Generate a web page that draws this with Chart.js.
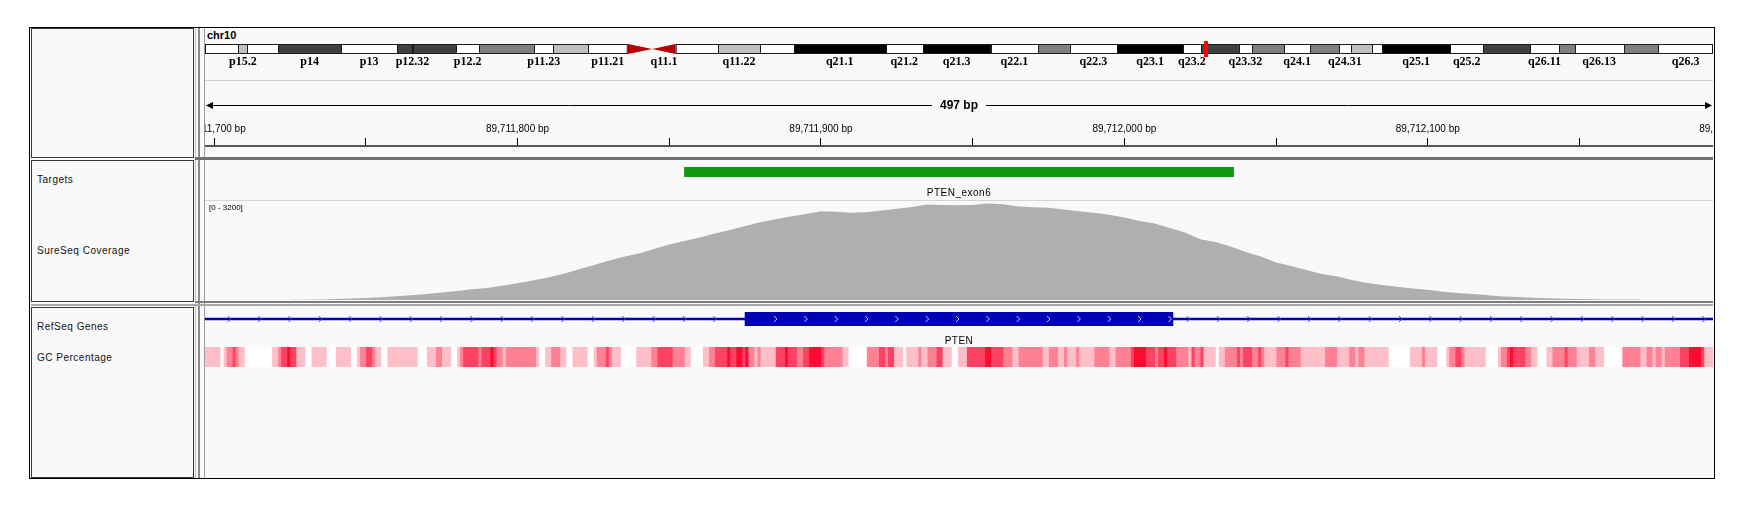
<!DOCTYPE html>
<html>
<head>
<meta charset="utf-8">
<script src="https://cdn.jsdelivr.net/npm/chart.js@4.4.1/dist/chart.umd.min.js"></script>
<style>
  body { margin:0; width:1746px; height:514px; background:#fff; position:relative; overflow:hidden; font-family:"Liberation Sans", Arial, sans-serif; }
  .box { position:absolute; box-sizing:border-box; }
  .name { left:31px; width:163px; border:1px solid #3a3a3a; background:#f9f9f9; }
  .lbl { position:absolute; left:37px; font-size:10px; letter-spacing:0.5px; color:#111; line-height:12px; white-space:nowrap; }
  canvas { position:absolute; }
</style>
</head>
<body>
<div class="box" style="left:29px;top:27px;width:1686px;height:452px;border:1px solid #000;background:#f9f9f9"></div>
<div class="box name" style="top:28px;height:130px"></div>
<div class="box name" style="top:160px;height:142px"></div>
<div class="box name" style="top:307px;height:171px"></div>

<div class="box" style="left:195px;top:28px;width:1px;height:450px;background:#c4c4c4"></div>
<div class="box" style="left:198px;top:28px;width:2px;height:450px;background:#8c8c8c"></div>
<div class="box" style="left:204px;top:28px;width:1px;height:450px;background:#9c9c9c"></div>

<div class="box" style="left:195px;top:157px;width:1518px;height:3px;background:#707070"></div>
<div class="box" style="left:195px;top:301px;width:1518px;height:2px;background:#7c7c7c"></div>
<div class="box" style="left:31px;top:304px;width:1682px;height:2px;background:#a8a8a8"></div>
<div class="box" style="left:205px;top:80px;width:1508px;height:1px;background:#d2d2d2"></div>
<div class="box" style="left:205px;top:200px;width:1508px;height:1px;background:#d4d4dc"></div>

<div class="lbl" style="top:174px">Targets</div>
<div class="lbl" style="top:245px">SureSeq Coverage</div>
<div class="lbl" style="top:321px">RefSeq Genes</div>
<div class="lbl" style="top:352px">GC Percentage</div>
<div class="box" style="left:207px;top:29px;font-weight:bold;font-size:11px;line-height:13px;color:#000">chr10</div>

<canvas id="ideo" width="1508" height="34" style="left:205px;top:38px"></canvas>
<canvas id="ruler" width="1508" height="76" style="left:205px;top:81px"></canvas>
<canvas id="targets" width="1508" height="39" style="left:205px;top:161px"></canvas>
<canvas id="coverage" width="1508" height="99" style="left:205px;top:201px"></canvas>
<canvas id="gene" width="1508" height="36" style="left:205px;top:309px"></canvas>
<canvas id="gc" width="1508" height="20" style="left:205px;top:347px"></canvas>

<script>
// visible window on chr10
const viewStart = 89711697;
const viewEnd = 89712194;
const chromEnd = 135534747;

// cytobands of chr10
const bandNames = ['p15.3','p15.2','p15.1','p14','p13','p12.33','p12.32','p12.31','p12.2','p12.1',
  'p11.23','p11.22','p11.21','p11.1','q11.1','q11.21','q11.22','q11.23','q21.1','q21.2',
  'q21.3','q22.1','q22.2','q22.3','q23.1','q23.2','q23.31','q23.32','q23.33','q24.1',
  'q24.2','q24.31','q24.32','q24.33','q25.1','q25.2','q25.3','q26.11','q26.12','q26.13',
  'q26.2','q26.3'];
const bandStarts = [0,3000000,3800000,6600000,12200000,17300000,18600000,18700000,22600000,24600000,
  29600000,31300000,34400000,38000000,40200000,42300000,46100000,49900000,52900000,61200000,
  64500000,70600000,74900000,77700000,82000000,87900000,89500000,92900000,94100000,97000000,
  99300000,101900000,103000000,104900000,105800000,111900000,114900000,119100000,121700000,123100000,
  127500000,130600000];
const bandStains = ['gneg','gpos25','gneg','gpos75','gneg','gpos75','gneg','gpos75','gneg','gpos50',
  'gneg','gpos25','gneg','acen','acen','gneg','gpos25','gneg','gpos100','gneg',
  'gpos100','gneg','gpos50','gneg','gpos100','gneg','gpos75','gneg','gpos50','gneg',
  'gpos50','gneg','gpos25','gneg','gpos100','gneg','gpos75','gneg','gpos50','gneg',
  'gpos50','gneg'];
const bandLabels = ['p15.2','p14','p13','p12.32','p12.2','p11.23','p11.21','q11.1','q11.22','q21.1',
  'q21.2','q21.3','q22.1','q22.3','q23.1','q23.2','q23.32','q24.1','q24.31','q25.1',
  'q25.2','q26.11','q26.13','q26.3'];

// SureSeq coverage, one value every 5 bp
const covStart = 89711725;
const covStep = 5;
const coverage = [10,10,16,29,45,65,90,120,155,194,
  242,291,346,388,462,540,630,727,840,986,
  1122,1267,1400,1500,1648,1794,1907,2020,2146,2263,
  2392,2515,2612,2699,2780,2867,2851,2822,2838,2893,
  2951,3006,3087,3071,3061,3071,3122,3097,3022,2996,
  2983,2922,2867,2819,2754,2667,2554,2473,2327,2182,
  1965,1875,1729,1552,1406,1212,1099,970,840,766,
  646,549,485,430,368,330,268,226,194,155,
  113,97,71,55,42,32,23,19,16,13];
const covMax = 3200;

// target and gene
const targetName = 'PTEN_exon6';
const targetStart = 89711855;
const targetEnd = 89712036;
const geneName = 'PTEN';
const geneStart = 89623195;
const geneEnd = 89728532;
const exonStart = 89711875;
const exonEnd = 89712016;

// GC percentage runs: offset from viewStart, intensity level 0..4
const gcOffsets = [0,5,6,7,9,10,11,13,22,24,
  25,27,28,30,33,35,40,43,48,50,
  51,53,55,56,58,60,70,73,76,78,
  81,83,84,85,90,91,94,95,96,98,
  99,109,110,112,114,117,119,121,126,128,
  129,132,133,134,137,142,147,149,154,158,
  160,164,166,168,172,173,175,177,178,179,
  181,182,183,188,191,192,195,197,199,203,
  204,210,212,218,222,224,225,227,230,231,
  235,236,238,241,243,246,248,251,257,259,
  263,266,268,276,278,281,283,284,287,288,
  293,298,300,305,306,310,313,314,316,317,
  320,324,325,326,328,329,333,334,336,340,
  341,342,345,347,348,349,353,356,357,361,
  369,373,377,379,380,382,390,397,401,402,
  406,409,410,412,414,415,422,426,427,429,
  430,431,435,437,439,442,444,448,449,452,
  456,458,461,467,473,475,477,478,480,481,
  486,489,493,494];
const gcLevels = [1,0,1,2,3,2,1,0,1,2,
  3,4,3,1,0,1,0,1,0,1,
  2,3,2,1,0,1,0,1,2,1,
  0,1,2,3,2,3,4,3,2,1,
  2,1,0,1,2,1,0,1,0,1,
  2,3,2,1,0,1,2,3,2,1,
  0,1,2,3,4,3,4,3,4,2,
  1,2,1,3,4,3,2,3,4,3,
  2,1,0,2,3,2,3,1,0,1,
  2,1,2,3,1,0,1,3,4,3,
  2,1,2,1,2,1,2,1,2,1,
  2,1,2,3,4,3,2,3,4,3,
  2,1,3,2,3,1,0,1,2,3,
  2,3,2,3,2,1,2,3,2,1,
  2,1,2,1,2,1,0,1,2,1,
  0,1,2,3,2,1,0,1,2,3,
  4,3,2,1,0,1,2,3,2,1,
  2,1,0,2,1,2,1,2,1,2,
  3,4,3,1];

const stainColors = { gneg: '#ffffff', gpos25: '#c0c0c0', gpos50: '#808080', gpos75: '#404040', gpos100: '#000000', acen: 'rgba(0,0,0,0)' };
const gcColors = ['#ffffff', '#ffbfc9', '#ff8193', '#ff4262', '#ff0a30'];
const FONT = '"Liberation Sans", Arial, sans-serif';

function bareOptions(xMin, xMax, padding) {
  return {
    responsive: false,
    animation: false,
    events: [],
    layout: { padding, autoPadding: false },
    scales: {
      x: { type: 'linear', min: xMin, max: xMax, display: false },
      y: { display: false }
    },
    plugins: { legend: { display: false }, tooltip: { enabled: false } }
  };
}

function floatingBar(start, end, color, extra) {
  return Object.assign({
    data: [[start, end]],
    backgroundColor: color,
    borderWidth: 0,
    grouped: false,
    barPercentage: 1,
    categoryPercentage: 1
  }, extra || {});
}

// ideogram
const ideoPlugin = {
  id: 'ideo',
  afterDatasetsDraw(chart) {
    const { ctx, chartArea: a, scales: { x } } = chart;
    const midY = (a.top + a.bottom) / 2;
    const cen = bandStains.map((s, i) => s === 'acen' ? i : -1).filter(i => i >= 0);
    const cenStart = bandStarts[cen[0]], cenMid = bandStarts[cen[1]], cenEnd = bandStarts[cen[1] + 1];
    ctx.save();
    ctx.fillStyle = '#b40000';
    ctx.beginPath();
    ctx.moveTo(x.getPixelForValue(cenStart), a.top);
    ctx.lineTo(x.getPixelForValue(cenMid), midY);
    ctx.lineTo(x.getPixelForValue(cenStart), a.bottom);
    ctx.closePath(); ctx.fill();
    ctx.beginPath();
    ctx.moveTo(x.getPixelForValue(cenEnd), a.top);
    ctx.lineTo(x.getPixelForValue(cenMid), midY);
    ctx.lineTo(x.getPixelForValue(cenEnd), a.bottom);
    ctx.closePath(); ctx.fill();

    ctx.strokeStyle = '#1a1a1a';
    ctx.lineWidth = 1;
    const p0 = x.getPixelForValue(0), pc = x.getPixelForValue(cenStart);
    const qc = x.getPixelForValue(cenEnd), q1 = x.getPixelForValue(chromEnd);
    ctx.strokeRect(p0 + 0.5, a.top + 0.5, pc - p0 - 1, a.bottom - a.top - 1);
    ctx.strokeRect(qc + 0.5, a.top + 0.5, q1 - qc - 1, a.bottom - a.top - 1);
    bandStarts.forEach((b, i) => {
      if (i === 0 || bandStains[i] === 'acen' || bandStains[i - 1] === 'acen') return;
      const px = Math.round(x.getPixelForValue(b)) + 0.5;
      ctx.beginPath(); ctx.moveTo(px, a.top); ctx.lineTo(px, a.bottom); ctx.stroke();
    });

    ctx.fillStyle = '#000';
    ctx.font = 'bold 12px "Liberation Serif", serif';
    ctx.textAlign = 'center';
    ctx.textBaseline = 'middle';
    bandLabels.forEach(name => {
      const i = bandNames.indexOf(name);
      const end = i + 1 < bandStarts.length ? bandStarts[i + 1] : chromEnd;
      ctx.fillText(name, x.getPixelForValue((bandStarts[i] + end) / 2), a.bottom + 8);
    });

    const vx = Math.round(x.getPixelForValue(viewStart)) + 1;
    const vw = Math.max(4, x.getPixelForValue(viewEnd) - x.getPixelForValue(viewStart));
    ctx.fillStyle = '#ff0000';
    ctx.fillRect(vx, a.top - 3, vw, a.bottom - a.top + 6);
    ctx.restore();
  }
};

new Chart(document.getElementById('ideo'), {
  type: 'bar',
  data: {
    labels: ['chr10'],
    datasets: bandNames.map((n, i) => floatingBar(bandStarts[i], i + 1 < bandStarts.length ? bandStarts[i + 1] : chromEnd, stainColors[bandStains[i]], { label: n }))
  },
  options: Object.assign(bareOptions(0, chromEnd, { top: 6, bottom: 18, left: 0, right: 0 }), { indexAxis: 'y' }),
  plugins: [ideoPlugin]
});

// ruler: tick marks come from the axis, labels are drawn so they can run off the edge like IGV
const rulerPlugin = {
  id: 'ruler',
  afterDraw(chart) {
    const { ctx, scales: { x } } = chart;
    const y = 24.5;
    const text = Math.round(x.max - x.min) + ' bp';
    ctx.save();
    ctx.font = 'bold 12px ' + FONT;
    const mid = (x.left + x.right) / 2;
    const half = ctx.measureText(text).width / 2 + 8;
    ctx.strokeStyle = '#000';
    ctx.lineWidth = 1;
    ctx.beginPath();
    ctx.moveTo(x.left + 2, y); ctx.lineTo(mid - half, y);
    ctx.moveTo(mid + half, y); ctx.lineTo(x.right - 2, y);
    ctx.stroke();
    ctx.fillStyle = '#000';
    ctx.beginPath();
    ctx.moveTo(x.left + 1, y); ctx.lineTo(x.left + 8, y - 3.5); ctx.lineTo(x.left + 8, y + 3.5); ctx.closePath(); ctx.fill();
    ctx.beginPath();
    ctx.moveTo(x.right - 1, y); ctx.lineTo(x.right - 8, y - 3.5); ctx.lineTo(x.right - 8, y + 3.5); ctx.closePath(); ctx.fill();
    ctx.textAlign = 'center';
    ctx.textBaseline = 'middle';
    ctx.fillText(text, mid, y);

    ctx.font = '10px ' + FONT;
    ctx.textBaseline = 'bottom';
    x.ticks.forEach(t => {
      if (t.value % 100 !== 0) return;
      ctx.fillText(t.value.toLocaleString('en-US') + ' bp', x.getPixelForValue(t.value), x.bottom - 12);
    });
    // the label past the right edge is still partly visible
    const nextLabel = Math.ceil(x.max / 100) * 100;
    ctx.fillText(nextLabel.toLocaleString('en-US') + ' bp', x.getPixelForValue(nextLabel), x.bottom - 12);
    ctx.restore();
  }
};

new Chart(document.getElementById('ruler'), {
  type: 'line',
  data: { datasets: [] },
  options: {
    responsive: false,
    animation: false,
    events: [],
    layout: { padding: 0, autoPadding: false },
    scales: {
      x: {
        type: 'linear', position: 'top', min: viewStart, max: viewEnd,
        afterFit: s => { s.height = 65; },
        ticks: { display: false, stepSize: 50, includeBounds: false, autoSkip: false },
        grid: { drawOnChartArea: false, drawTicks: true, tickLength: 8, color: '#000', lineWidth: 1 },
        border: { display: true, color: '#555', width: 2 }
      },
      y: { display: false }
    },
    plugins: { legend: { display: false }, tooltip: { enabled: false } }
  },
  plugins: [rulerPlugin]
});

// targets
const targetLabel = {
  id: 'targetLabel',
  afterDatasetsDraw(chart) {
    const { ctx, chartArea: a, scales: { x } } = chart;
    ctx.save();
    ctx.font = '10px ' + FONT;
    ctx.letterSpacing = '0.5px';
    ctx.fillStyle = '#000';
    ctx.textAlign = 'center';
    ctx.textBaseline = 'middle';
    ctx.fillText(targetName, x.getPixelForValue((targetStart + targetEnd) / 2), a.bottom + 16);
    ctx.restore();
  }
};

new Chart(document.getElementById('targets'), {
  type: 'bar',
  data: { labels: ['Targets'], datasets: [floatingBar(targetStart, targetEnd, '#0f9913')] },
  options: Object.assign(bareOptions(viewStart, viewEnd, { top: 6, bottom: 23, left: 0, right: 0 }), { indexAxis: 'y' }),
  plugins: [targetLabel]
});

// coverage
const rangeLabel = {
  id: 'rangeLabel',
  afterDraw(chart) {
    const { ctx, chartArea: a, scales: { y } } = chart;
    ctx.save();
    ctx.font = '8px ' + FONT;
    ctx.fillStyle = '#000';
    ctx.textBaseline = 'middle';
    ctx.fillText('[' + y.min + ' - ' + y.max + ']', a.left + 4, a.top + 7);
    ctx.restore();
  }
};

new Chart(document.getElementById('coverage'), {
  type: 'line',
  data: {
    datasets: [{
      data: coverage.map((v, i) => ({ x: covStart + i * covStep, y: v })),
      fill: 'origin',
      backgroundColor: '#afafaf',
      borderColor: '#afafaf',
      borderWidth: 0,
      pointRadius: 0,
      tension: 0
    }]
  },
  options: (() => {
    const o = bareOptions(viewStart, viewEnd, 0);
    o.scales.y = { display: false, min: 0, max: covMax };
    return o;
  })(),
  plugins: [rangeLabel]
});

// RefSeq gene
const genePlugin = {
  id: 'geneDeco',
  afterDatasetsDraw(chart) {
    const { ctx, chartArea: a, scales: { x } } = chart;
    const y = (a.top + a.bottom) / 2;
    const chev = (b, color) => {
      const px = x.getPixelForValue(b);
      ctx.strokeStyle = color;
      ctx.beginPath();
      ctx.moveTo(px - 1.5, y - 3); ctx.lineTo(px + 1.5, y); ctx.lineTo(px - 1.5, y + 3);
      ctx.stroke();
    };
    ctx.save();
    ctx.lineWidth = 1;
    for (let b = viewStart + 8; b < exonStart - 3; b += 10) chev(b, '#3a3af0');
    for (let b = exonStart + 10; b < exonEnd; b += 10) chev(b, '#c8c8ff');
    for (let b = exonEnd + 5; b <= viewEnd; b += 10) chev(b, '#3a3af0');
    ctx.font = '10px ' + FONT;
    ctx.letterSpacing = '0.5px';
    ctx.fillStyle = '#000';
    ctx.textAlign = 'center';
    ctx.textBaseline = 'middle';
    const s = Math.max(geneStart, x.min), e = Math.min(geneEnd, x.max);
    ctx.fillText(geneName, x.getPixelForValue((s + e) / 2), a.bottom + 15);
    ctx.restore();
  }
};

new Chart(document.getElementById('gene'), {
  type: 'bar',
  data: {
    labels: ['RefSeq Genes'],
    datasets: [
      floatingBar(geneStart, geneEnd, '#0000b4', { barThickness: 1.6 }),
      floatingBar(exonStart, exonEnd, '#0000b4')
    ]
  },
  options: Object.assign(bareOptions(viewStart, viewEnd, { top: 3, bottom: 19, left: 0, right: 0 }), { indexAxis: 'y' }),
  plugins: [genePlugin]
});

// GC percentage
new Chart(document.getElementById('gc'), {
  type: 'bar',
  data: {
    labels: ['GC Percentage'],
    datasets: gcOffsets.map((o, i) => floatingBar(
      viewStart + o,
      viewStart + (i + 1 < gcOffsets.length ? gcOffsets[i + 1] : viewEnd - viewStart),
      gcColors[gcLevels[i]]))
  },
  options: Object.assign(bareOptions(viewStart, viewEnd, 0), { indexAxis: 'y' })
});
</script>
</body>
</html>
